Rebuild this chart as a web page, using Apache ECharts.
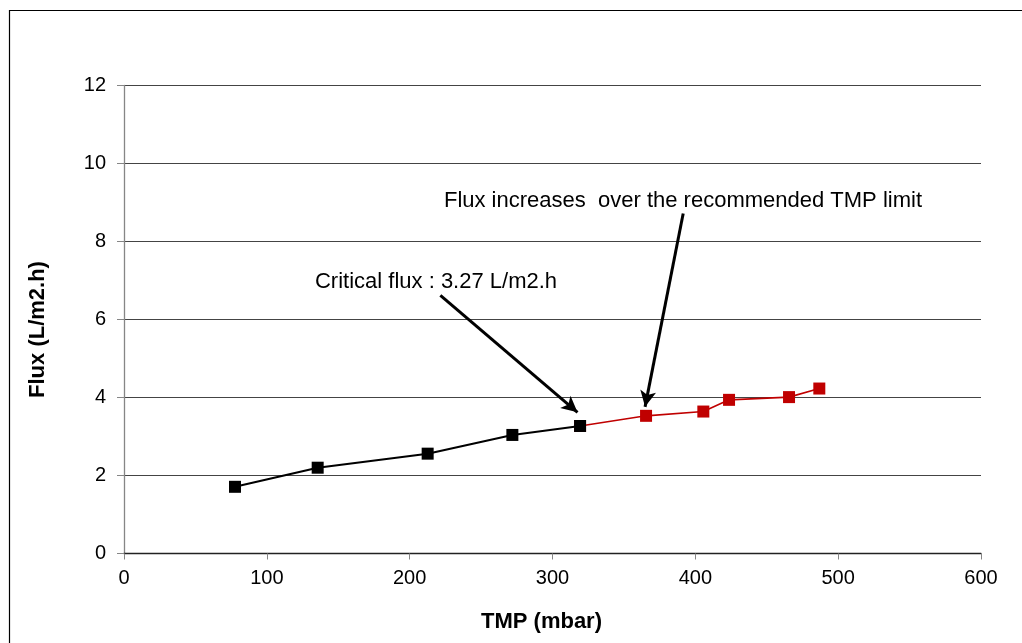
<!DOCTYPE html>
<html>
<head>
<meta charset="utf-8">
<script src="https://cdn.jsdelivr.net/npm/echarts@6/dist/echarts.min.js"></script>
<style>
  html, body { margin: 0; padding: 0; background: #fff; }
  #chart { width: 1022px; height: 643px; }
</style>
</head>
<body>
<div id="chart"></div>
<script>
// Flux vs transmembrane pressure
const tmpBelow = [77.7, 135.6, 212.6, 271.9, 319.3];
const fluxBelow = [1.71, 2.20, 2.56, 3.04, 3.27];
const tmpAbove = [319.3, 365.5, 405.6, 423.6, 465.6, 486.8];
const fluxAbove = [3.27, 3.53, 3.64, 3.94, 4.01, 4.23];
const yTicks = [0, 2, 4, 6, 8, 10, 12];
const xTicks = [0, 100, 200, 300, 400, 500, 600];

// Annotation anchors (data space): [text start], [arrow start], [arrow tip]
const criticalNote = { text: 'Critical flux : 3.27 L/m2.h', at: [133.7, 6.96], from: [221.5, 6.62], to: [317.5, 3.62] };
const limitNote = { text: 'Flux increases  over the recommended TMP limit', at: [224, 9.04], from: [391.5, 8.72], to: [364.8, 3.76] };

const pairs = (xs, ys) => xs.map((x, i) => [x, ys[i]]);

const font = 'Liberation Sans, Arial, sans-serif';
const chart = echarts.init(document.getElementById('chart'), null, { renderer: 'canvas' });

const arrowLine = (n) => [
  { coord: n.from, symbol: 'none' },
  { coord: n.to, symbol: 'arrow' }
];

chart.setOption({
  animation: false,
  backgroundColor: '#fff',
  graphic: [{
    type: 'rect',
    shape: { x: 9.5, y: 10.5, width: 1030, height: 650 },
    style: { fill: 'none', stroke: '#000', lineWidth: 1.2 },
    silent: true
  }],
  grid: { left: 124, top: 85.5, width: 857, height: 468, containLabel: false },
  xAxis: {
    type: 'value', min: xTicks[0], max: xTicks[xTicks.length - 1], interval: 100,
    name: 'TMP (mbar)', nameLocation: 'middle', nameGap: 57,
    nameTextStyle: { fontFamily: font, fontWeight: 'bold', fontSize: 22, color: '#000', padding: [0, 22, 0, 0] },
    axisLine: { show: true, onZero: false, lineStyle: { color: '#222', width: 1.3 } },
    axisTick: { show: true, inside: false, length: 6, lineStyle: { color: '#868686' } },
    axisLabel: { fontFamily: font, fontSize: 20, color: '#000', margin: 15 },
    splitLine: { show: false }
  },
  yAxis: {
    type: 'value', min: yTicks[0], max: yTicks[yTicks.length - 1], interval: 2,
    name: 'Flux (L/m2.h)', nameLocation: 'middle', nameGap: 75, nameRotate: 90,
    nameTextStyle: { fontFamily: font, fontWeight: 'bold', fontSize: 22, color: '#000', padding: [0, 20, 0, 0] },
    axisLine: { show: true, lineStyle: { color: '#868686', width: 1.3 } },
    axisTick: { show: true, inside: false, length: 7, lineStyle: { color: '#868686' } },
    axisLabel: { fontFamily: font, fontSize: 20, color: '#000', margin: 18 },
    splitLine: { show: true, lineStyle: { color: '#444', width: 1.2 } }
  },
  series: [
    {
      name: 'Above critical', type: 'line', data: pairs(tmpAbove, fluxAbove),
      symbol: 'rect', symbolSize: 12, z: 2,
      lineStyle: { color: '#c00000', width: 1.6 },
      itemStyle: { color: '#c00000' }
    },
    {
      name: 'Below critical', type: 'line', data: pairs(tmpBelow, fluxBelow),
      symbol: 'rect', symbolSize: 12, z: 3,
      lineStyle: { color: '#000', width: 2 },
      itemStyle: { color: '#000' },
      markLine: {
        silent: true, symbolSize: [12, 16], animation: false,
        lineStyle: { color: '#000', width: 3, type: 'solid' },
        label: { show: false },
        data: [arrowLine(criticalNote), arrowLine(limitNote)]
      },
      markPoint: {
        silent: true, symbol: 'circle', symbolSize: 0,
        label: { show: true, position: 'right', distance: 0, fontFamily: font, fontSize: 22, color: '#000', formatter: (p) => p.name },
        data: [
          { name: criticalNote.text, coord: criticalNote.at },
          { name: limitNote.text, coord: limitNote.at }
        ]
      }
    }
  ]
});
</script>
</body>
</html>
